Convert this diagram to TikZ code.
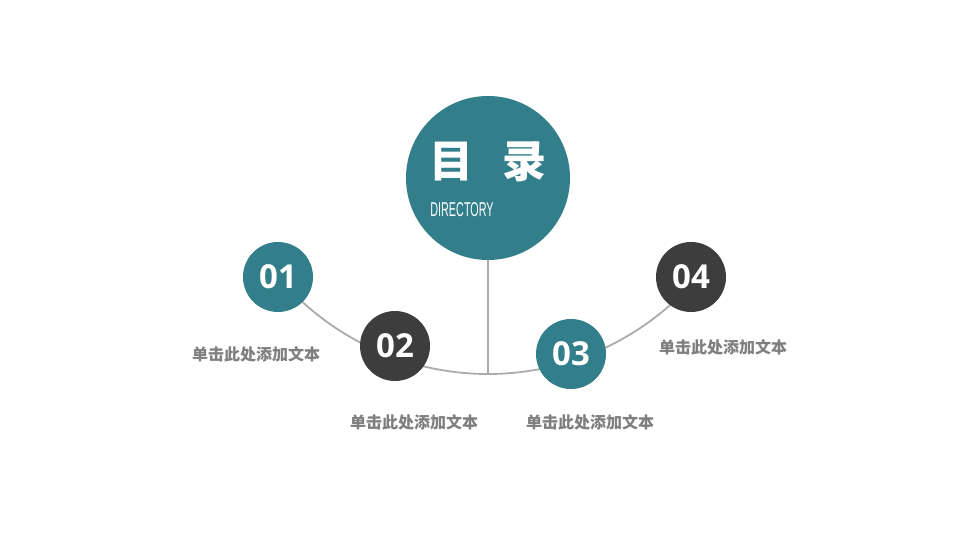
\documentclass[tikz,border=0pt]{standalone}
\usepackage{fontspec}
\usetikzlibrary{calc}
\newfontfamily\cjk{Noto Sans CJK SC}
\newfontfamily\numfont{Open Sans}
\newfontfamily\latin{Liberation Sans}
\definecolor{teal1}{HTML}{327E8A}
\definecolor{dark1}{HTML}{3D3D3D}
\definecolor{line1}{HTML}{ABABAB}
\definecolor{text1}{HTML}{7F7F7F}
\tikzset{
  link/.style={draw=line1, line width=1.8pt},
  bigdot/.style={circle, fill=teal1, minimum size=164pt, inner sep=0pt},
  numdot/.style={circle, minimum size=70pt, inner sep=0pt, text=white, font=\numfont\bfseries\fontsize{33}{33}\selectfont},
  lab/.style={text=text1, font=\cjk\bfseries\fontsize{16}{16}\selectfont, inner sep=0pt},
  title/.style={text=white, font=\cjk\bfseries\fontsize{44}{44}\selectfont, inner sep=0pt}
}
\begin{document}
\begin{tikzpicture}[x=1pt,y=1pt]
\useasboundingbox (0,0) rectangle (960,-540);
\fill[white] (0,0) rectangle (960,-540);
% arc
\coordinate (arcc) at (488,-99);
\coordinate (base) at (488,-374);
\draw[link] ($(arcc)+(222:275)$) arc[start angle=222, end angle=318, radius=275];
% main circle
\node[bigdot] (main) at (488,-178) {};
\draw[link] (main.south) -- (base);
\node[title] (t1) at (451,-162) {目};
\node[title] (t2) at (524,-162) {录};
\node[text=white, inner sep=0pt, font=\latin\fontsize{20}{20}\selectfont] (dir) at (462,-210) {\scalebox{0.54}[1]{DIRECTORY}};
% small circles
\node[numdot, fill=teal1] (n1) at (278,-277) {01};
\node[numdot, fill=dark1] (n2) at (395,-346) {02};
\node[numdot, fill=teal1] (n3) at (571,-354) {03};
\node[numdot, fill=dark1] (n4) at (691,-277) {04};
% labels
\node[lab] (l1) at (256,-354) {单击此处添加文本};
\node[lab] (l2) at (414,-422) {单击此处添加文本};
\node[lab] (l3) at (590,-422) {单击此处添加文本};
\node[lab] (l4) at (723,-347) {单击此处添加文本};
\end{tikzpicture}
\end{document}
